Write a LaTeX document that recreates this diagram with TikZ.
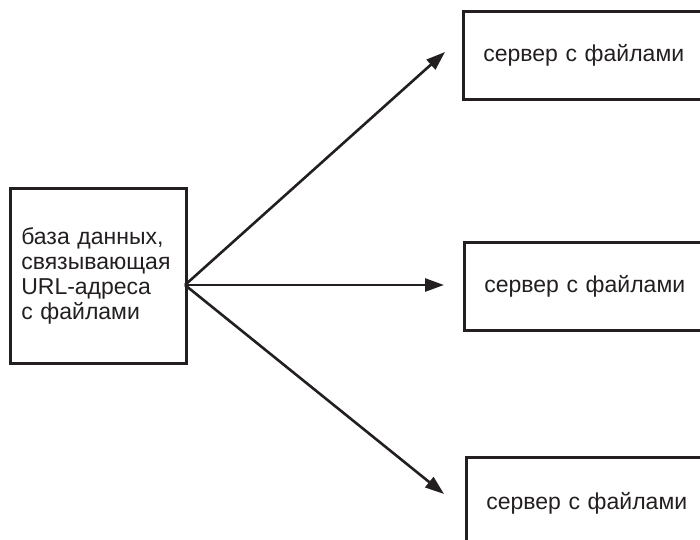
\documentclass[tikz,border=0pt]{standalone}
\usepackage{fontspec}
\setmainfont{Liberation Sans}
\usetikzlibrary{arrows.meta,positioning}
\definecolor{ink}{HTML}{231F20}
\begin{document}
\begin{tikzpicture}[x=1pt,y=-1pt,
    font=\fontsize{23}{25}\selectfont,
    box/.style={draw=ink, line width=2.6pt, text=ink, align=left, inner ysep=0pt},
    link/.style={draw=ink, line width=2.6pt, -{Triangle[length=19pt,width=13pt]}}]
  \useasboundingbox (0,0) rectangle (700,539);
  \clip (0,0) rectangle (700,539);
  % database box on the left
  \node[box, anchor=north west, minimum width=176pt, minimum height=175pt,
        inner xsep=11pt, text width=154pt] (db) at (9,187)
        {база данных,\\связывающая\\URL-адреса\\с файлами};
  % servers, cut off by the right edge
  \node[box, anchor=north west, minimum width=260pt, minimum height=88pt,
        inner xsep=20pt, text width=220pt] (srv1) at (462,10) {сервер с файлами};
  \node[box, anchor=north west, minimum width=260pt, minimum height=88pt,
        inner xsep=20pt, text width=220pt] (srv2) at (463,241) {сервер с файлами};
  \node[box, anchor=north west, minimum width=260pt, minimum height=92pt,
        inner xsep=20pt, text width=220pt] (srv3) at (465,456) {сервер с файлами};
  \coordinate (hub) at (185,285);
  \coordinate (tip1) at (445,52);
  \coordinate (tip2) at (444,285);
  \coordinate (tip3) at (444,494);
  \draw[link] (hub) -- (tip1);
  \draw[link] (hub) -- (tip2);
  \draw[link] (hub) -- (tip3);
\end{tikzpicture}
\end{document}
